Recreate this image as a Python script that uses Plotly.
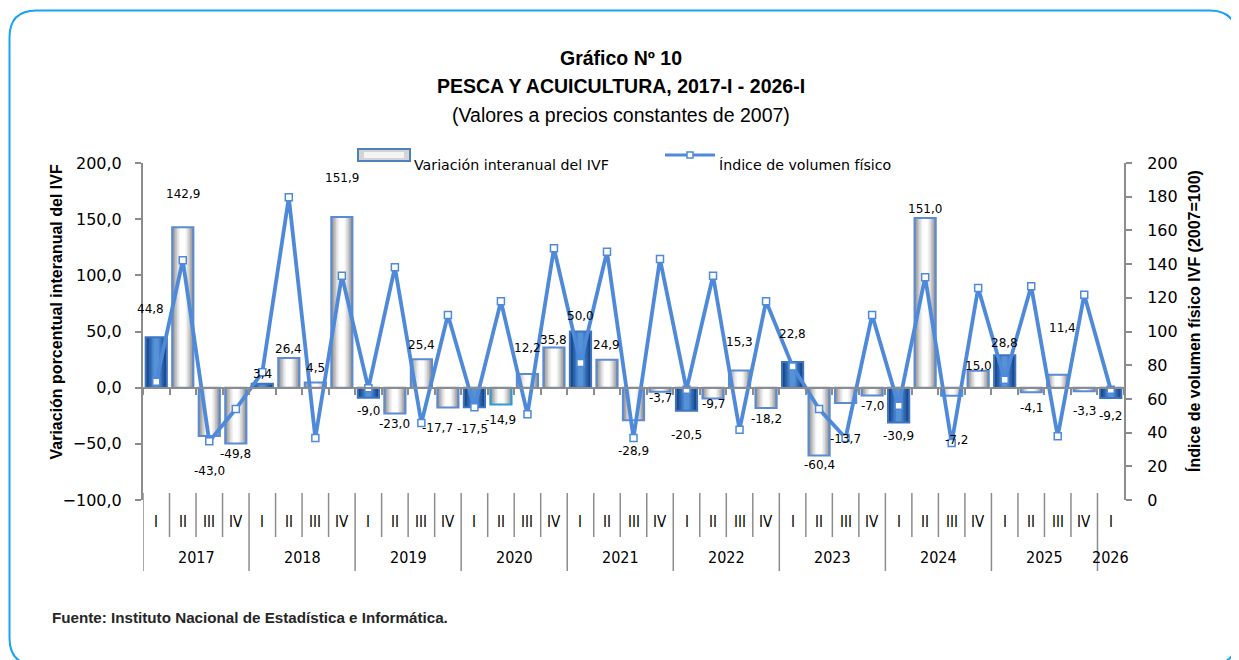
import plotly.graph_objects as go

# ---------------- data ----------------
quarters = ["I", "II", "III", "IV"] * 9 + ["I"]
years = [str(y) for y in range(2017, 2026) for _ in range(4)] + ["2026"]
categories = [f"{y}-{q}" for y, q in zip(years, quarters)]

var_ivf = [44.8, 142.9, -43.0, -49.8,
           3.4, 26.4, 4.5, 151.9,
           -9.0, -23.0, 25.4, -17.7,
           -17.5, -14.9, 12.2, 35.8,
           50.0, 24.9, -28.9, -3.7,
           -20.5, -9.7, 15.3, -18.2,
           22.8, -60.4, -13.7, -7.0,
           -30.9, 151.0, -7.2, 15.0,
           28.8, -4.1, 11.4, -3.3,
           -9.2]

ivf_index = [70.2, 142.3, 34.8, 54.0,
             75.8, 179.6, 36.8, 133.1,
             66.3, 138.1, 45.7, 109.8,
             55.0, 117.9, 50.9, 149.4,
             81.3, 147.4, 36.8, 143.0,
             65.5, 133.1, 41.7, 117.9,
             79.3, 54.0, 36.8, 109.8,
             56.0, 132.2, 33.8, 125.8,
             71.4, 126.8, 37.8, 121.8,
             65.5]

year_names = [str(y) for y in range(2017, 2027)]

# ---------------- layout helpers (screen pixels -> paper) ----------------
OFF = 8                      # page body margin
W_FIG, H_FIG = 1239 - OFF, 660 - OFF
L, R, T, B = 143, 1124, 163, 500   # plot area in screen pixels
PW, PH = R - L, B - T


def xp(px):
    return (px - L) / PW


def yp(py):
    return (B - py) / PH


# label distance (px) of each data label from the bar end (style only)
label_gap_px = [28, 33, 35, 10, 10, 9, 15, 39, 13, 10, 14, 20, 22, 16, 26, 7,
                16, 15, 31, 6, 24, 5, 28, 11, 28, 9, 36, 10, 14, 9, 44, 5,
                12, 16, 47, 20, 18]
label_xshift_px = {0: -6, 11: -10, 12: -2, 30: 5, 34: 5}

LINE_BLUE = "#4E8AD9"
AXIS_GREY = "#8C8C8C"

fig = go.Figure()

# ----- bars with a stepped horizontal gradient -----
widths = [0.80, 0.68, 0.56, 0.44, 0.32, 0.20]
light_cols = ["#8E8E8E", "#ABABAB", "#C6C6C6", "#DEDEDE", "#F1F1F1", "#FFFFFF"]
dark_cols = ["#17427D", "#1F5093", "#2A60A8", "#3771BB", "#4682CB", "#5592D6"]
is_dark = [q == "I" for q in quarters]

for k, w in enumerate(widths):
    cols = [dark_cols[k] if d else light_cols[k] for d in is_dark]
    fig.add_trace(go.Bar(
        x=categories, y=var_ivf, width=[w] * len(categories),
        marker=dict(color=cols, line=dict(width=0)),
        showlegend=False, hoverinfo="skip", yaxis="y"))

border_cols = ["#3F74C0" if d else "#5B8BD4" for d in is_dark]
border_cols[13] = "#2E9BD6"
fig.add_trace(go.Bar(
    x=categories, y=var_ivf, width=[0.80] * len(categories),
    marker=dict(color="rgba(0,0,0,0)", line=dict(color=border_cols, width=2)),
    name="Variación interanual del IVF", showlegend=False,
    hovertemplate="%{x}: %{y:.1f}<extra></extra>", yaxis="y"))

# ----- line -----
fig.add_trace(go.Scatter(
    x=categories, y=ivf_index, mode="lines+markers", yaxis="y2",
    line=dict(color=LINE_BLUE, width=3.8),
    marker=dict(symbol="square", size=7, color="white",
                line=dict(color=LINE_BLUE, width=1.5)),
    name="Índice de volumen físico", showlegend=False))

annotations = []
shapes = []

# ----- data labels -----
for i, v in enumerate(var_ivf):
    gap = label_gap_px[i]
    annotations.append(dict(
        x=i, y=v, xref="x", yref="y", text=f"{v:.1f}".replace(".", ","),
        showarrow=False, yanchor="middle", xanchor="center",
        yshift=gap if v >= 0 else -gap, xshift=label_xshift_px.get(i, 0),
        font=dict(family="DejaVu Sans", size=12, color="#000000")))

# ----- category labels (two levels) -----
for i, q in enumerate(quarters):
    annotations.append(dict(
        x=i, y=yp(522), xref="x", yref="paper", text=q, showarrow=False,
        yanchor="middle", xanchor="center",
        font=dict(family="DejaVu Sans Condensed, DejaVu Sans", size=15, color="#000000")))
for yname in year_names:
    idx = [i for i, y in enumerate(years) if y == yname]
    annotations.append(dict(
        x=sum(idx) / len(idx), y=yp(557), xref="x", yref="paper", text=yname,
        showarrow=False, yanchor="middle", xanchor="center",
        font=dict(family="DejaVu Sans Condensed, DejaVu Sans", size=16, color="#000000")))

# separators
for b in range(len(categories)):
    bx = b - 0.5
    year_start = b == 0 or years[b] != years[b - 1]
    shapes.append(dict(
        type="line", xref="x", yref="paper", x0=bx, x1=bx,
        y0=yp(493), y1=yp(571) if year_start else yp(537),
        line=dict(color=AXIS_GREY, width=1.5)))

# ----- titles -----
tx = xp(621)
annotations += [
    dict(x=tx, y=yp(45), xref="paper", yref="paper", text="<b>Gráfico Nº 10</b>",
         showarrow=False, font=dict(family="Liberation Sans", size=19.5, color="#000")),
    dict(x=tx, y=yp(73), xref="paper", yref="paper",
         text="<b>PESCA Y ACUICULTURA, 2017-I - 2026-I</b>",
         showarrow=False, font=dict(family="Liberation Sans", size=19.5, color="#000")),
    dict(x=tx, y=yp(102), xref="paper", yref="paper",
         text="(Valores a precios constantes de 2007)",
         showarrow=False, font=dict(family="Liberation Sans", size=19.5, color="#000")),
    dict(x=xp(45), y=yp(312), xref="paper", yref="paper", textangle=-90,
         text="<b>Variación porcentual interanual del IVF</b>", showarrow=False,
         font=dict(family="Liberation Sans", size=16, color="#000")),
    dict(x=xp(1205), y=yp(321), xref="paper", yref="paper", textangle=-90,
         text="<b>Índice de volumen físico IVF (2007=100)</b>", showarrow=False,
         font=dict(family="Liberation Sans", size=16, color="#000")),
    dict(x=xp(50), y=yp(628), xref="paper", yref="paper", xanchor="left",
         text="<b>Fuente: Instituto Nacional de Estadística e Informática.</b>",
         showarrow=False, font=dict(family="Liberation Sans", size=15.2, color="#262626")),
    dict(x=xp(412), y=yp(155), xref="paper", yref="paper", xanchor="left",
         text="Variación interanual del IVF", showarrow=False,
         font=dict(family="DejaVu Sans", size=14.2, color="#000")),
    dict(x=xp(717), y=yp(155), xref="paper", yref="paper", xanchor="left",
         text="Índice de volumen físico", showarrow=False,
         font=dict(family="DejaVu Sans", size=14.2, color="#000")),
]

# ----- manual legend swatches -----
shapes += [
    dict(type="rect", xref="paper", yref="paper", x0=xp(358), x1=xp(410),
         y0=yp(161), y1=yp(149), fillcolor="#D4D4D4",
         line=dict(color="#4F81BD", width=2)),
    dict(type="rect", xref="paper", yref="paper", x0=xp(364), x1=xp(404),
         y0=yp(158), y1=yp(152), fillcolor="#F4F4F4", line=dict(width=0)),
    dict(type="line", xref="paper", yref="paper", x0=xp(665), x1=xp(715),
         y0=yp(155), y1=yp(155), line=dict(color=LINE_BLUE, width=3)),
    dict(type="rect", xref="paper", yref="paper", x0=xp(687), x1=xp(693),
         y0=yp(158), y1=yp(152), fillcolor="white",
         line=dict(color=LINE_BLUE, width=1.5)),
]

# ----- rounded outer frame -----
fl, fr, ft, fb, rr = 9.5, 1236.5, 10.5, 665, 27


def P(px, py):
    return f"{xp(px):.5f},{yp(py):.5f}"


frame_path = (f"M {P(fl + rr, ft)} L {P(fr - rr, ft)} Q {P(fr, ft)} {P(fr, ft + rr)} "
              f"L {P(fr, fb - rr)} Q {P(fr, fb)} {P(fr - rr, fb)} "
              f"L {P(fl + rr, fb)} Q {P(fl, fb)} {P(fl, fb - rr)} "
              f"L {P(fl, ft + rr)} Q {P(fl, ft)} {P(fl + rr, ft)} Z")
shapes.append(dict(type="path", xref="paper", yref="paper", path=frame_path,
                   line=dict(color="#1AA3F5", width=2), layer="below"))

fig.update_layout(
    width=W_FIG, height=H_FIG,
    margin=dict(l=L - OFF, r=W_FIG - (R - OFF), t=T - OFF, b=H_FIG - (B - OFF),
                autoexpand=False),
    paper_bgcolor="white", plot_bgcolor="white",
    separators=",.",
    barmode="overlay",
    showlegend=False,
    xaxis=dict(type="category", categoryorder="array", categoryarray=categories,
               range=[-0.5, len(categories) - 0.5],
               anchor="free", position=100 / 300,
               showline=True, linecolor=AXIS_GREY, linewidth=2,
               ticks="outside", tickson="boundaries", ticklen=6,
               tickcolor=AXIS_GREY, tickwidth=1.5,
               showticklabels=False, showgrid=False, zeroline=False,
               fixedrange=True),
    yaxis=dict(range=[-100, 200], tick0=0, dtick=50, tickformat=".1f",
               showline=True, linecolor=AXIS_GREY, linewidth=2,
               ticks="outside", ticklen=6, tickcolor=AXIS_GREY, tickwidth=1.5,
               ticklabelstandoff=10,
               tickfont=dict(family="DejaVu Sans", size=16, color="#000"),
               showgrid=False, zeroline=False, fixedrange=True),
    yaxis2=dict(range=[0, 200], tick0=0, dtick=20, tickformat="d",
                overlaying="y", side="right", anchor="x",
                showline=True, linecolor=AXIS_GREY, linewidth=2,
                ticks="outside", ticklen=6, tickcolor=AXIS_GREY, tickwidth=1.5,
                ticklabelstandoff=12,
                tickfont=dict(family="DejaVu Sans", size=16, color="#000"),
                showgrid=False, zeroline=False, fixedrange=True),
    annotations=annotations,
    shapes=shapes,
)

fig.write_html("out.html")
